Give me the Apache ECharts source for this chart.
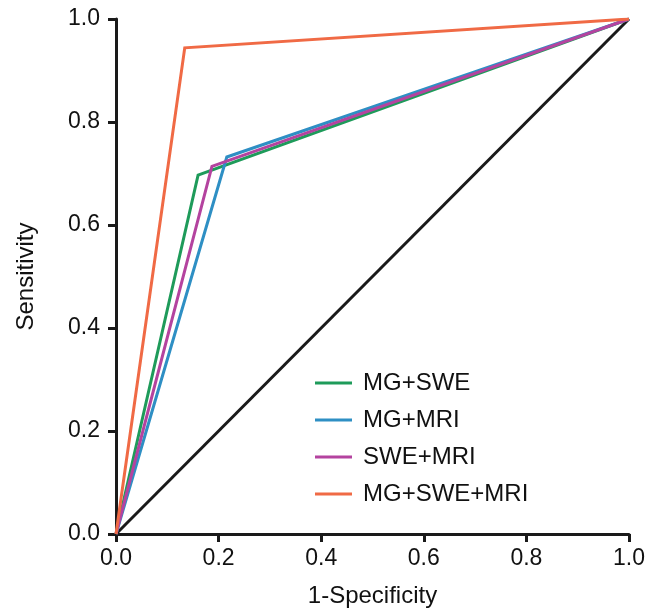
<!DOCTYPE html>
<html>
<head>
<meta charset="utf-8">
<script src="https://cdn.jsdelivr.net/npm/echarts@6/dist/echarts.min.js"></script>
<style>
  html, body { margin: 0; padding: 0; background: #fff; }
  #chart { width: 662px; height: 613px; }
</style>
</head>
<body>
<div id="chart"></div>
<script>
// ROC points [1-specificity, sensitivity]
var mgSwe = [[0, 0], [0.16, 0.697], [1, 1]];
var mgMri = [[0, 0], [0.216, 0.732], [1, 1]];
var sweMri = [[0, 0], [0.187, 0.714], [1, 1]];
var mgSweMri = [[0, 0], [0.134, 0.944], [1, 1]];
var reference = [[0, 0], [1, 1]];

var seriesNames = ['MG+SWE', 'MG+MRI', 'SWE+MRI', 'MG+SWE+MRI'];
var seriesColors = ['#1e9b5a', '#2e8fc4', '#b4439f', '#f06a45'];
var seriesData = [mgSwe, mgMri, sweMri, mgSweMri];

var font = 'Liberation Sans, Arial, sans-serif';

var series = [{
    name: 'ref',
    type: 'line',
    data: reference,
    symbol: 'none',
    silent: true,
    lineStyle: { color: '#1a1a1a', width: 3 },
    z: 1
}];
seriesNames.forEach(function (n, i) {
    series.push({
        name: n,
        type: 'line',
        data: seriesData[i],
        symbol: 'none',
        lineStyle: { color: seriesColors[i], width: 3, join: 'miter' },
        itemStyle: { color: seriesColors[i] },
        z: 2 + i
    });
});

var chart = echarts.init(document.getElementById('chart'));
chart.setOption({
    animation: false,
    grid: { left: 116, right: 33, top: 19, bottom: 78 },
    legend: {
        data: seriesNames,
        orient: 'vertical',
        left: 310,
        top: 366,
        icon: 'rect',
        itemWidth: 37,
        itemHeight: 3,
        itemGap: 13,
        textStyle: { fontFamily: font, fontSize: 24, color: '#111', lineHeight: 24, padding: [0, 0, 0, 6] }
    },
    xAxis: {
        type: 'value',
        min: 0,
        max: 1,
        interval: 0.2,
        name: '1-Specificity',
        nameLocation: 'middle',
        nameGap: 50,
        nameTextStyle: { fontFamily: font, fontSize: 24, color: '#111' },
        axisLine: { lineStyle: { color: '#1a1a1a', width: 3 } },
        axisTick: { show: true, length: 8, lineStyle: { color: '#1a1a1a', width: 3 } },
        axisLabel: { fontFamily: font, fontSize: 23, color: '#111', margin: 13, formatter: function (v) { return v.toFixed(1); } },
        splitLine: { show: false }
    },
    yAxis: {
        type: 'value',
        min: 0,
        max: 1,
        interval: 0.2,
        name: 'Sensitivity',
        nameLocation: 'middle',
        nameGap: 78,
        nameTextStyle: { fontFamily: font, fontSize: 24, color: '#111' },
        axisLine: { show: true, lineStyle: { color: '#1a1a1a', width: 3 } },
        axisTick: { show: true, length: 8, lineStyle: { color: '#1a1a1a', width: 3 } },
        axisLabel: { fontFamily: font, fontSize: 23, color: '#111', margin: 16, formatter: function (v) { return v.toFixed(1); } },
        splitLine: { show: false }
    },
    series: series
});
</script>
</body>
</html>
